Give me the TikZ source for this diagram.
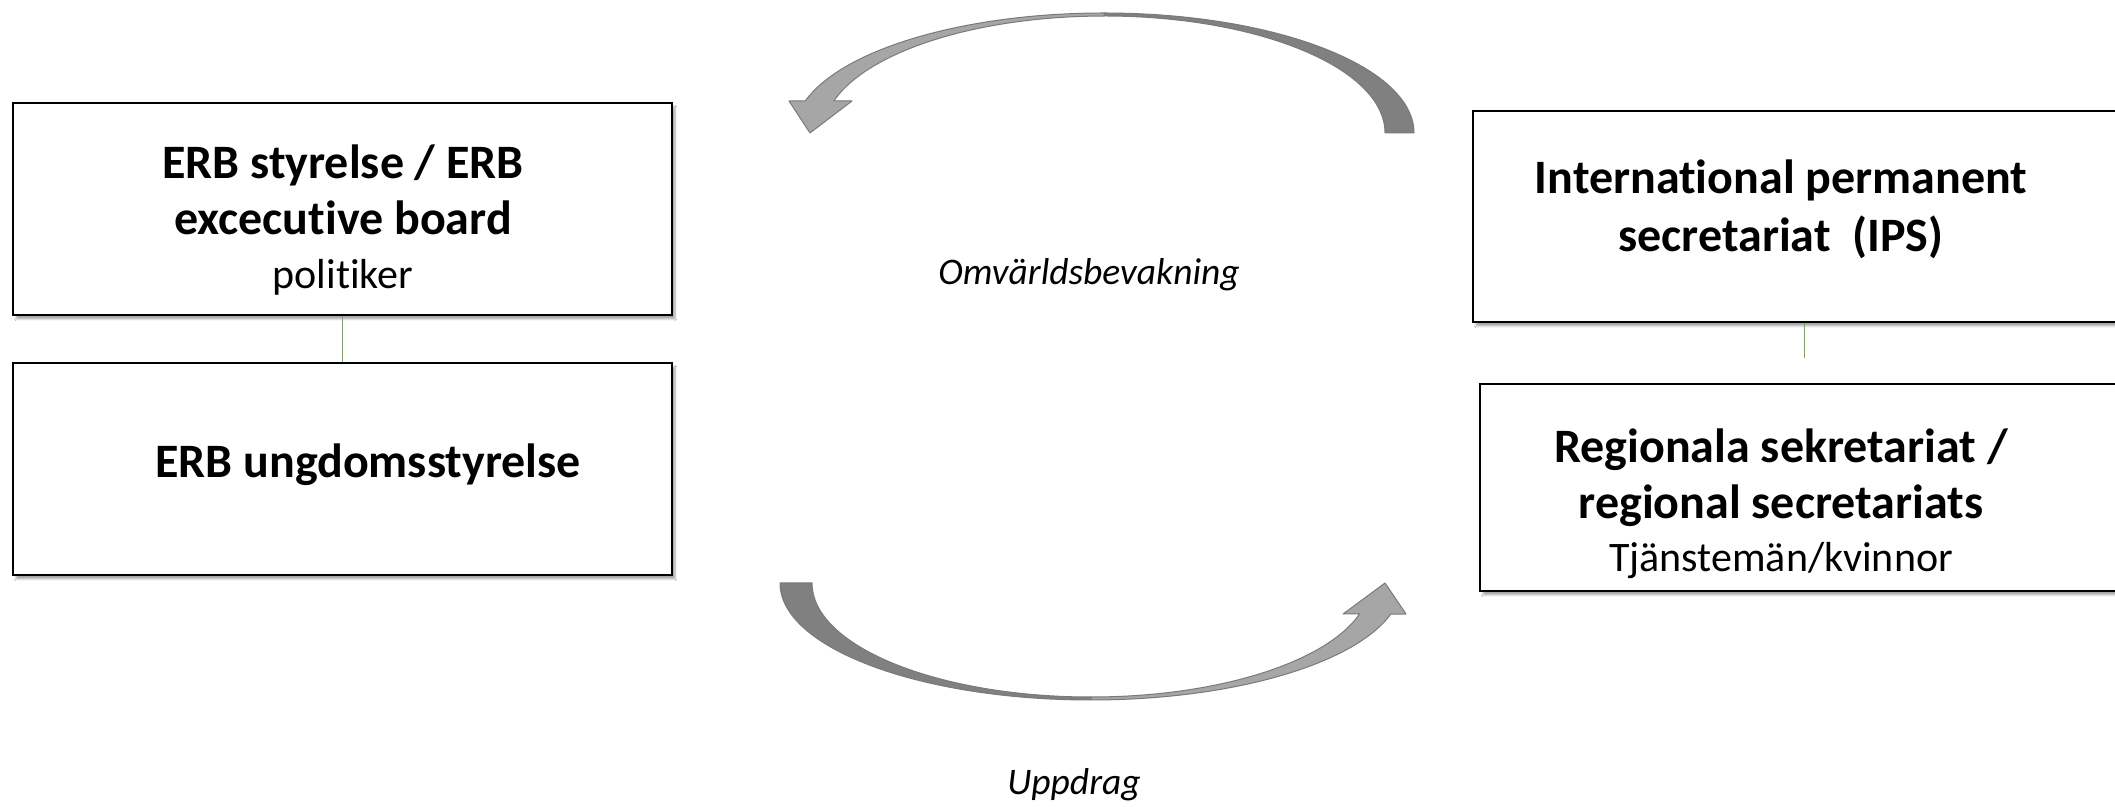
\documentclass[tikz,border=0pt]{standalone}
\usepackage{fontspec}
\setmainfont{Carlito}[Ligatures=NoCommon]
\usetikzlibrary{shadows.blur}
\definecolor{arrdark}{HTML}{808080}
\definecolor{arrlight}{HTML}{A6A6A6}
\definecolor{arredge}{HTML}{7A7A7A}
\definecolor{linkgreen}{HTML}{70AD47}
\begin{document}
\begin{tikzpicture}[x=1pt,y=1pt,
 box/.style={draw=black, line width=1.5pt, fill=white, rectangle, inner sep=0pt,
   blur shadow={shadow xshift=3pt,shadow yshift=-4pt,shadow blur steps=6,shadow opacity=35}},
 title/.style={font=\fontsize{48}{55}\selectfont\bfseries, anchor=mid, inner sep=0pt},
 sub/.style={font=\fontsize{42}{48}\selectfont, anchor=mid, inner sep=0pt},
 lbl/.style={font=\fontsize{37.5}{44}\selectfont\itshape, anchor=mid, inner sep=0pt},
 link/.style={draw=linkgreen, line width=1pt},
 darkpart/.style={fill=arrdark, draw=arredge, line width=1pt, line join=round},
 lightpart/.style={fill=arrlight, draw=arredge, line width=1pt, line join=round}]
\useasboundingbox (0,0) rectangle (2115,806);
\fill[white] (0,0) rectangle (2115,806);

% boxes
\node[box, minimum width=659, minimum height=212] (A) at (342.5,597) {};
\node[box, minimum width=659, minimum height=212] (B) at (342.5,337) {};
\node[box, minimum width=662, minimum height=211] (C) at (1804,589.5) {};
\node[box, minimum width=648, minimum height=207] (D) at (1804,318.5) {};

% links
\draw[link] (A.south) -- (B.north);
\coordinate (cdend) at (1804,448);
\draw[link] (C.south) -- (cdend);

% texts
\node[title] (a1) at (343,630) {ERB styrelse / ERB};
\node[title] (a2) at (343,574) {excecutive board};
\node[sub] (a3) at (343,520) {politiker};
\node[title] (b1) at (368,331) {ERB ungdomsstyrelse};
\node[title] (c1) at (1781,615) {International permanent};
\node[title] (c2) at (1781,557) {secretariat\ \ (IPS)};
\node[title] (d1) at (1781,346) {Regionala sekretariat /};
\node[title] (d2) at (1781,290) {regional secretariats};
\node[sub] (d3) at (1781,237) {Tjänstemän/kvinnor};
\node[lbl] (omv) at (1089,524) {Omvärldsbevakning};
\node[lbl] (upp) at (1074,14) {Uppdrag};

% top curved arrow (points left-down)
\path[darkpart] (1414,673) arc[start angle=0,end angle=90,x radius=310,y radius=120]
  -- (1104,790) arc[start angle=90,end angle=0,x radius=281,y radius=117] -- cycle;
\path[lightpart] (1104,793) arc[start angle=90,end angle=164.5,x radius=310,y radius=120]
  -- (789,705) -- (810,673) -- (852,705) -- (833.8,705)
  arc[start angle=164.1,end angle=90,x radius=281,y radius=117] -- cycle;

% bottom curved arrow (points right-up)
\path[darkpart] (780,223) arc[start angle=180,end angle=270,x radius=311,y radius=117]
  -- (1091,109) arc[start angle=270,end angle=180,x radius=279,y radius=114] -- cycle;
\path[lightpart] (1091,106) arc[start angle=270,end angle=344.6,x radius=311,y radius=117]
  -- (1406,192) -- (1385,223) -- (1343,192) -- (1359.5,192)
  arc[start angle=344.22,end angle=270,x radius=279,y radius=114] -- cycle;
\end{tikzpicture}
\end{document}
